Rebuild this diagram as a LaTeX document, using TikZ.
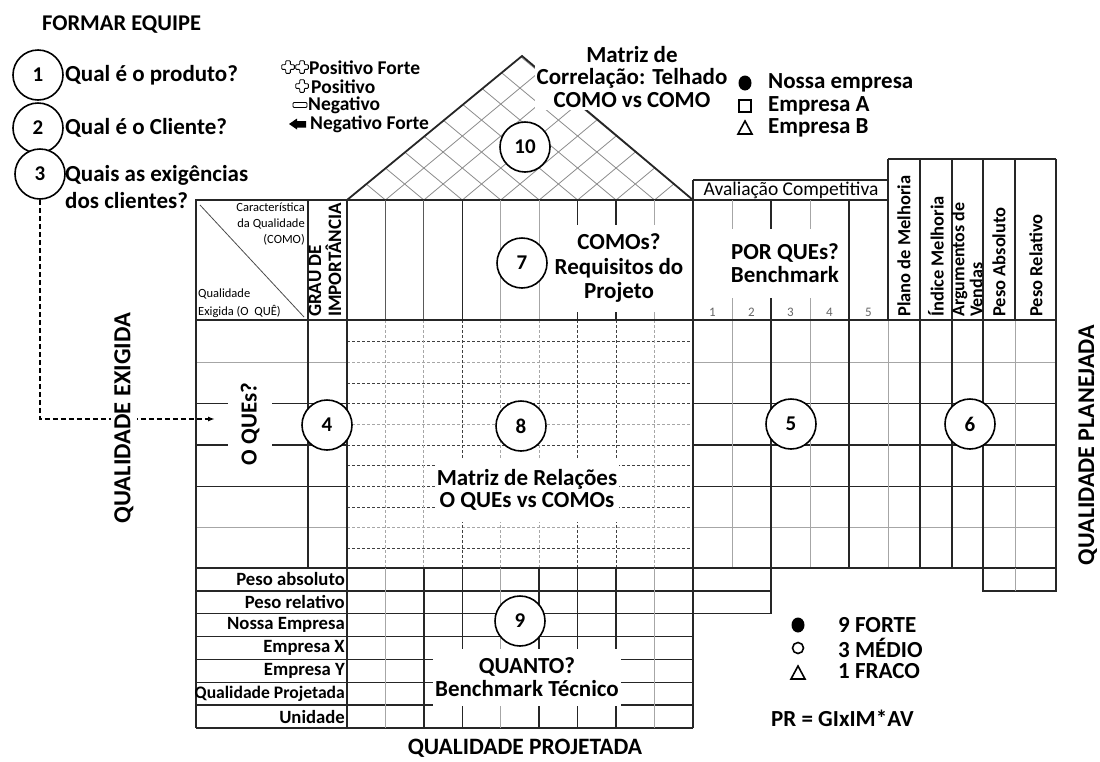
\documentclass[tikz,border=0pt]{standalone}
\usepackage{fontspec}
\setmainfont{Carlito}
\usetikzlibrary{arrows.meta}
\newcommand\fsz[2]{\fontsize{#1}{#2}\selectfont}
\newcommand\crossat[1]{\draw[line width=0.9pt, rounded corners=0.8pt, shift={#1}] (2.3,-6.3) -- (2.3,-2.3) -- (6.3,-2.3) -- (6.3,2.3) -- (2.3,2.3) -- (2.3,6.3) -- (-2.3,6.3) -- (-2.3,2.3) -- (-6.3,2.3) -- (-6.3,-2.3) -- (-2.3,-2.3) -- (-2.3,-6.3) -- cycle;}
\tikzset{
  thk/.style={line width=1.5pt, black!85},
  mid/.style={line width=1.1pt, black!65},
  thn/.style={line width=0.9pt, black!35},
  dsh/.style={line width=0.9pt, black!75, dash pattern=on 3pt off 2pt},
  dshl/.style={line width=0.9pt, black!35, dash pattern=on 3pt off 2pt},
  hatch/.style={line width=0.8pt, black!45},
  num/.style={circle, draw, line width=1.6pt, minimum size=50pt, inner sep=0pt, fill=white, font=\fsz{21}{24}\bfseries},
  big/.style={font=\fsz{23}{23}\bfseries, inner sep=1pt},
  wbox/.style={fill=white, inner sep=2pt, align=center},
  rowlbl/.style={font=\fsz{18.7}{20}\bfseries, anchor=east, inner sep=0.5pt},
  vlbl/.style={font=\fsz{18.5}{18}\bfseries, rotate=90, anchor=west, inner sep=0pt, align=left},
  small/.style={font=\fsz{12.5}{15}, inner sep=0pt},
  leg/.style={font=\fsz{19.5}{19}\bfseries, anchor=west, inner sep=0pt},
}
\begin{document}
\begin{tikzpicture}[x=1pt, y=-1pt]
\useasboundingbox (0,0) rectangle (1100,761);
\fill[white] (0,0) rectangle (1100,761);

% ---------- roof hatch ----------
\begin{scope}
  \clip (347,200) -- (522,56) -- (693,200) -- cycle;
  \foreach \k in {-9,...,18} {
    \draw[hatch] (347+38.44*\k,200) -- ++(300,-249.6);
    \draw[hatch] (347+38.44*\k,200) -- ++(-300,-249.6);
  }
\end{scope}
\draw[thk, line width=1.8pt] (347,200) -- (522,56) -- (693,200);

% ---------- header left ----------
\draw[thk] (196,200) rectangle (308,320);
\draw[thk] (308,200) rectangle (347,320);
\draw[line width=0.8pt, black!70] (200,205) -- (304,317);

% ---------- COMO header ----------
\draw[thk] (347,200) -- (693,200);
\foreach \x/\s in {385.4/mid, 423.9/mid, 462.3/thk, 500.8/thn, 539.2/thn, 577.6/thk, 616.1/thk, 654.5/thn}
  \draw[\s] (\x,200) -- (\x,320);

% ---------- right header ----------
\draw[thk] (693,180) -- (888,180);
\draw[thk] (693,200) -- (888,200);
\draw[thk] (888,159) -- (1056,159);
\foreach \x/\s in {732/thn, 771/thk, 810/thn, 849/thk}
  \draw[\s] (\x,200) -- (\x,320);
\foreach \x/\s in {888/thk, 920/thk, 952/thk, 983/thk, 1015/thk, 1056/thk}
  \draw[\s] (\x,159) -- (\x,320);

% ---------- body ----------
\foreach \y/\s in {341.7/dsh, 362.3/dshl, 383/dsh, 403.7/dsh, 424.3/dshl, 445/dsh, 465.7/dsh, 486.3/dsh, 507/dsh, 527.7/dshl, 548.3/dsh}
  \draw[\s] (347,\y) -- (693,\y);
\foreach \x/\s in {385.4/dshl, 423.9/dshl, 462.3/dsh, 500.8/dshl, 539.2/dshl, 577.6/dsh, 616.1/dsh, 654.5/dshl}
  \draw[\s] (\x,320) -- (\x,568);
\foreach \y/\s in {362.3/thn, 403.7/thk, 445/thk, 486.3/thk, 527.7/thn}
  \draw[\s] (196,\y) -- (347,\y);
\foreach \y/\s in {362.3/thn, 403.7/thk, 445/thk, 486.3/thk, 527.7/thn}
  \draw[\s] (693,\y) -- (1056,\y);
\foreach \x/\s in {732/thn, 771/thk, 810/thn, 849/thk, 888/thn, 920/thk, 952/thk, 983/thk, 1015/thn, 1056/thk}
  \draw[\s] (\x,320) -- (\x,568);
\draw[thk] (196,320) -- (1056,320);
\draw[thk] (196,568) -- (1056,568);
\draw[thk] (196,200) -- (196,728);
\draw[thk] (308,320) -- (308,568);
\draw[thk] (347,320) -- (347,728);
\draw[thk] (693,180) -- (693,728);

% ---------- bottom ----------
\foreach \k in {1,...,7}
  \draw[thk] (196,568+22.86*\k) -- (693,568+22.86*\k);
\foreach \x/\s in {385.4/thn, 423.9/thk, 462.3/thk, 500.8/thn, 539.2/thk, 577.6/thk, 616.1/thk, 654.5/thn}
  \draw[\s] (\x,568) -- (\x,728);
\draw[thk] (693,590.9) -- (771,590.9);
\draw[thk] (693,613.7) -- (771,613.7) -- (771,568);
\draw[thk] (983,568) -- (983,590.9) -- (1056,590.9) -- (1056,568);
\draw[thn] (1015,568) -- (1015,590.9);

% ---------- header texts ----------
\node[small, anchor=east] (car1) at (305,207) {Característica};
\node[small, anchor=east] (car2) at (305,223.5) {da Qualidade};
\node[small, anchor=east] (car3) at (305,240) {(COMO)};
\node[small, anchor=west] (qe1) at (198,294) {Qualidade};
\node[small, anchor=west] (qe2) at (198,311) {Exigida (O\ \ QUÊ)};
\node[font=\fsz{19}{20}\bfseries, rotate=90, anchor=west, align=left, inner sep=0pt] (grau) at (325,317) {GRAU DE\\IMPORTÂNCIA};

\node[font=\fsz{19.5}{20}, inner sep=0pt] (aval) at (791,190.5) {Avaliação Competitiva};
\foreach \i/\x in {1/712.5, 2/751.5, 3/790.5, 4/829.5, 5/868.5}
  \node[font=\fsz{13}{14}, text=black!60, inner sep=0pt] (n\i) at (\x,312) {\i};
\node[vlbl] (plano) at (904,317) {Plano de Melhoria};
\node[vlbl] (indice) at (936,317) {Índice Melhoria};
\node[vlbl, font=\fsz{18}{18}\bfseries] (argum) at (967,317) {Argumentos de\\Vendas};
\node[vlbl] (pabs) at (999,317) {Peso Absoluto};
\node[vlbl] (prel) at (1036,317) {Peso Relativo};

% ---------- white text boxes ----------
\node[big, wbox, font=\fsz{23}{24.5}\bfseries, minimum width=127pt, minimum height=87pt] (comos) at (619,268) {COMOs?\\Requisitos do\\Projeto};
\node[big, wbox, minimum width=124pt, minimum height=69pt] (porque) at (785,263) {POR QUEs?\\Benchmark};
\node[big, wbox, font=\fsz{23}{22.5}\bfseries] (matriz) at (632,77) {Matriz de\\Correlação: Telhado\\COMO vs COMO};
\node[big, wbox, rotate=90, minimum width=92pt, minimum height=44pt] (oques) at (250,424) {O QUEs?};
\node[big, wbox, font=\fsz{23}{22}\bfseries, minimum width=181pt, minimum height=64pt] (relac) at (527,490) {Matriz de Relações\\O QUEs vs COMOs};
\node[big, wbox, minimum width=186pt, minimum height=57pt] (quanto) at (527,677) {QUANTO?\\Benchmark Técnico};

% ---------- bottom row labels ----------
\foreach \k/\t in {1/Peso absoluto, 2/Peso relativo, 3/Nossa Empresa, 4/Empresa X, 5/Empresa Y, 7/Unidade}
  \node[rowlbl] (r\k) at (345.5,568+22.86*\k-11.43) {\t};
\node[rowlbl, font=\fsz{17.6}{20}\bfseries] (r6) at (345.5,568+22.86*6-11.43) {Qualidade Projetada};

% ---------- top-left ----------
\node[big, anchor=west, font=\fsz{22.5}{24}\bfseries] (equipe) at (41,25) {FORMAR EQUIPE};
\node[num] (c1) at (38,75) {1};
\node[num] (c2) at (38,128) {2};
\node[num] (c3) at (40,174) {3};
\node[big, anchor=west, font=\fsz{23}{27}\bfseries] (q1) at (64,75) {Qual é o produto?};
\node[big, anchor=west, font=\fsz{23}{27}\bfseries] (q2) at (64,128) {Qual é o Cliente?};
\node[big, anchor=west, align=left, font=\fsz{23}{27}\bfseries] (q3) at (64,187) {Quais as exigências\\dos clientes?};

% dashed arrow
\coordinate (arrEnd) at (215,419);
\draw[line width=1.5pt, dash pattern=on 5pt off 3pt, -{Latex[length=7pt,width=5pt]}] (c3.south) -- (40,419) -- (arrEnd);
\node[big, wbox, rotate=90, font=\fsz{24.5}{26}\bfseries, inner sep=3pt] (qexig) at (124,418) {QUALIDADE EXIGIDA};

% ---------- circles ----------
\node[num] (c4) at (327,425) {4};
\node[num] (c5) at (791,424) {5};
\node[num] (c6) at (970,424) {6};
\node[num] (c7) at (522,263) {7};
\node[num] (c8) at (521,426) {8};
\node[num] (c9) at (520,621) {9};
\node[num] (c10) at (525,147) {10};

% ---------- legend: correlation ----------
\crossat{(288,67)}
\crossat{(302,67)}
\crossat{(302,86)}
\draw[line width=0.9pt, rounded corners=1pt] (293,102.5) rectangle (307,107.5);
\fill (289,124) -- (297,118.5) -- (297,121) -- (306,121) -- (306,127.5) -- (297,127.5) -- (297,129.5) -- cycle;
\node[leg] (lpf) at (309,68) {Positivo Forte};
\node[leg] (lp) at (311,86.5) {Positivo};
\node[leg] (ln) at (308,105) {Negativo};
\node[leg] (lnf) at (310,124) {Negativo Forte};

% ---------- legend: companies ----------
\fill (745,83) ellipse (6.5 and 7.5);
\draw[line width=1.6pt] (739,100) rectangle (751,112);
\draw[line width=1.6pt, line join=miter] (738,134) -- (752,134) -- (745,121) -- cycle;
\node[big, anchor=west] (lne) at (767,83) {Nossa empresa};
\node[big, anchor=west] (lea) at (767,106) {Empresa A};
\node[big, anchor=west] (leb) at (767,128) {Empresa B};

% ---------- legend: relations ----------
\fill (798,625) ellipse (6.5 and 7.5);
\draw[line width=1.6pt] (798,648) circle (5.5);
\draw[line width=1.6pt, line join=miter] (791,679) -- (805,679) -- (798,666) -- cycle;
\node[big, anchor=west] (l9) at (837,625) {9 FORTE};
\node[big, anchor=west] (l3) at (837,648) {3 MÉDIO};
\node[big, anchor=west] (l1) at (837,671) {1 FRACO};
\node[big, anchor=west] (pr) at (770,718) {PR = GIxIM*AV};

% ---------- axis titles ----------
\node[big, font=\fsz{23.5}{24}\bfseries] (qproj) at (525,748) {QUALIDADE PROJETADA};
\node[rotate=90, anchor=base, inner sep=0pt, font=\fsz{24}{26}\bfseries] (qplan) at (1094,445) {QUALIDADE PLANEJADA};
\end{tikzpicture}
\end{document}
